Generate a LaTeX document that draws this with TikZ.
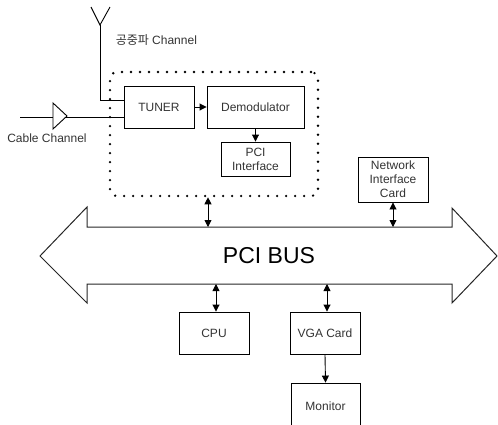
\documentclass[tikz,border=0pt]{standalone}
\usepackage{fontspec}
\setmainfont{Liberation Sans}
\newfontfamily\krfont{Noto Sans CJK KR}
\usetikzlibrary{arrows.meta}
\begin{document}
\begin{tikzpicture}[x=1pt,y=-1pt,
  line width=0.9pt,
  every node/.style={font=\fontsize{12}{14}\selectfont, text=black!80},
  blk/.style={draw, inner sep=0pt, align=center},
  dotbox/.style={draw, line width=2.6pt, dash pattern=on 0pt off 9pt, line cap=round, rounded corners=7pt, inner sep=0pt},
  tip/.style={-{Triangle[length=7pt,width=7pt]}},
  dtip/.style={{Triangle[length=7pt,width=7pt]}-{Triangle[length=7pt,width=7pt]}}
]
\useasboundingbox (0,0) rectangle (498,424);
\clip (0,0) rectangle (498,424);

% receiver card
\node[dotbox, minimum width=208pt, minimum height=124pt] (card) at (214,134) {};
\node[blk, minimum width=70pt, minimum height=42pt] (tuner) at (159,107) {TUNER};
\node[blk, minimum width=97pt, minimum height=42pt] (demod) at (255.5,107) {Demodulator};
\node[blk, minimum width=69pt, minimum height=34pt] (pcii) at (255.5,159) {PCI\\Interface};
\draw[tip] (tuner) -- (demod);
\draw[tip] (demod.south |- 0,128) -- (pcii.north);

% antenna input
\coordinate (ant) at (100,25);
\coordinate (antL) at (91,7);
\coordinate (antR) at (110,7);
\coordinate (antB) at (100,100);
\draw (antL) -- (ant) -- (antR);
\draw (ant) -- (antB) -- (antB -| tuner.west);
\node[anchor=west] (airlbl) at (112,40) {{\krfont 공중파} Channel};

% cable input
\coordinate (cab) at (20,117);
\draw (cab) -- (cab -| tuner.west);
\draw[fill=white] (53,103) -- (67,116) -- (53,129) -- cycle;
\node (cablbl) at (47,138) {Cable Channel};

% PCI bus
\draw[line width=1pt, draw=black!85] (40,256) -- (87,207) -- (87,227) -- (452,227) -- (452,208)
  -- (497,256) -- (452,303) -- (452,284) -- (87,284) -- (87,303) -- cycle;
\node[text=black] (bus) at (269,256) {\fontsize{23}{26}\selectfont PCI BUS};
\coordinate (busT1) at (208,227);
\coordinate (busT2) at (393,227);
\coordinate (busB1) at (216,284);
\coordinate (busB2) at (327,284);

% peripherals
\node[blk, minimum width=70pt, minimum height=45pt] (nic) at (393,179.5) {Network\\Interface\\Card};
\node[blk, minimum width=70pt, minimum height=42pt] (cpu) at (214,333) {CPU};
\node[blk, minimum width=70pt, minimum height=42pt] (vga) at (325,333) {VGA Card};
\node[blk, minimum width=69pt, minimum height=46pt] (mon) at (325.5,406) {Monitor};

\draw[dtip] (busT1 |- card.south) -- (busT1);
\draw[dtip] (nic.south) -- (busT2);
\draw[dtip] (busB1) -- (busB1 |- cpu.north);
\draw[dtip] (busB2) -- (busB2 |- vga.north);
\draw[tip] (vga.south) -- (mon.north);
\end{tikzpicture}
\end{document}
